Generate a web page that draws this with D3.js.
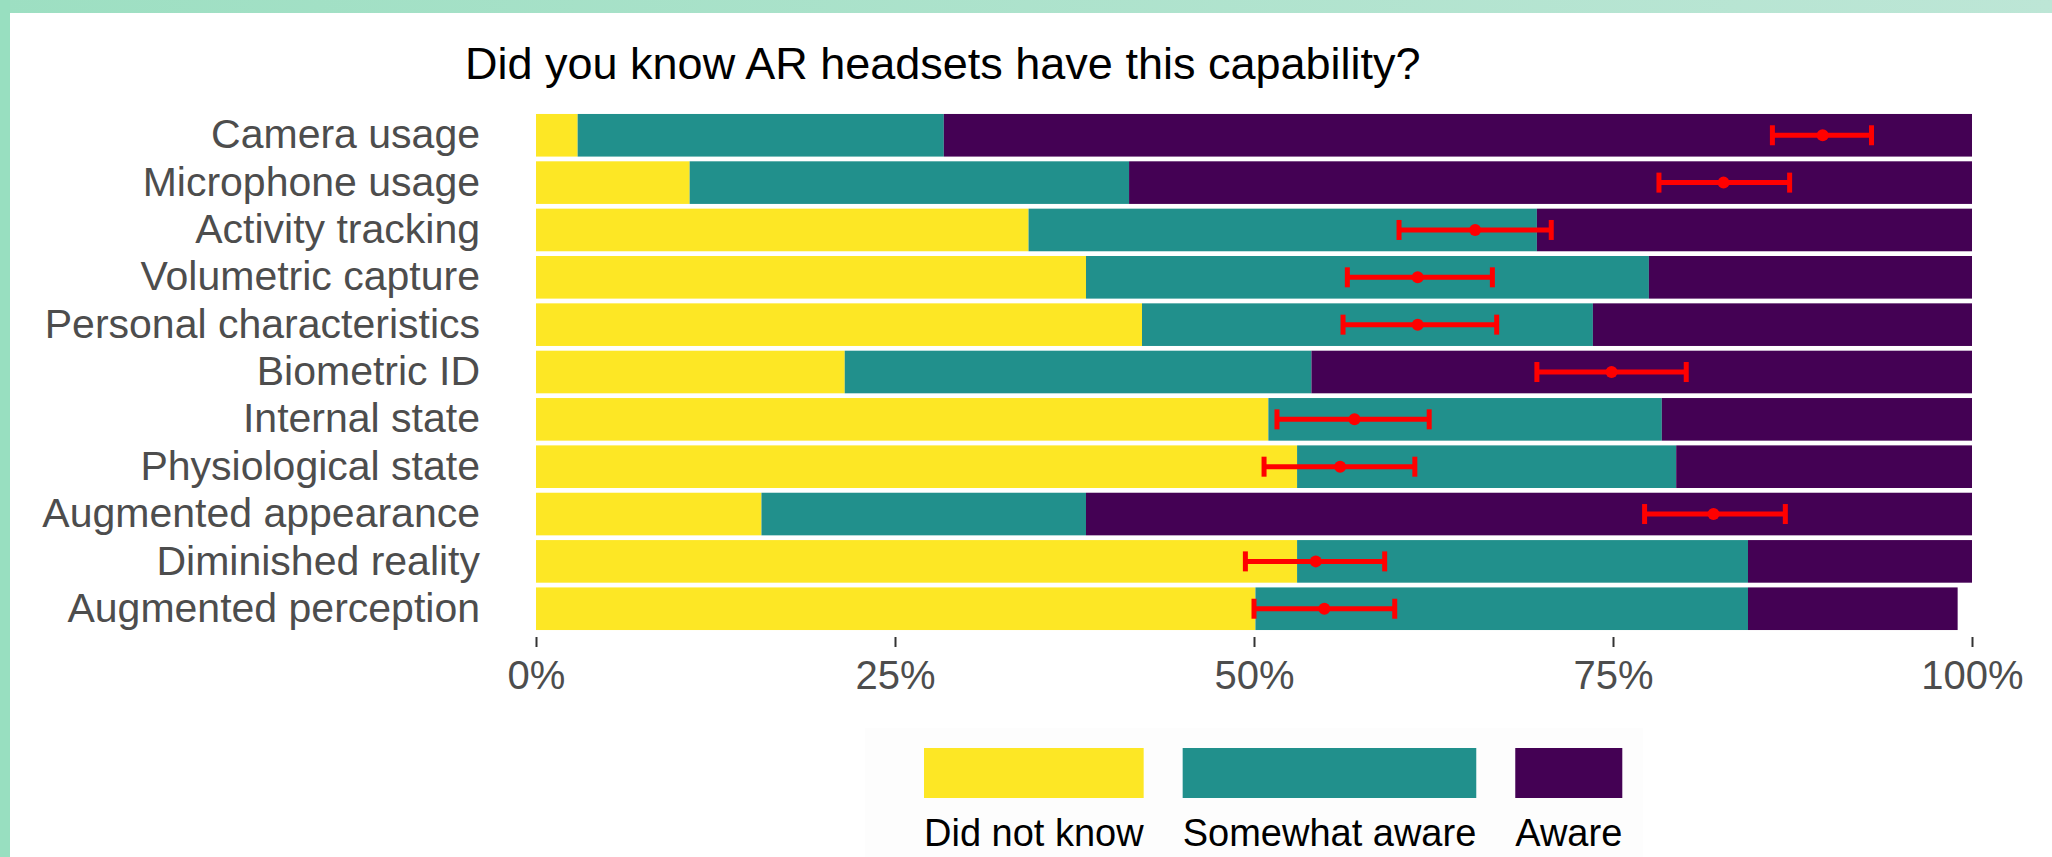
<!DOCTYPE html>
<html>
<head>
<meta charset="utf-8">
<script src="https://cdn.jsdelivr.net/npm/d3@7"></script>
<style>
  html, body { margin: 0; padding: 0; background: #ffffff; }
  svg { display: block; }
  text { font-family: "Liberation Sans", Arial, sans-serif; }
</style>
</head>
<body>
<svg id="chart" width="2052" height="857"></svg>
<script>
// ---- data ----
const categories = [
  "Camera usage", "Microphone usage", "Activity tracking", "Volumetric capture",
  "Personal characteristics", "Biometric ID", "Internal state", "Physiological state",
  "Augmented appearance", "Diminished reality", "Augmented perception"
];
const didNotKnow     = [2.9, 10.7, 34.3, 38.3, 42.2, 21.5, 51.0, 53.0, 15.7, 53.0, 50.1];
const somewhatAware  = [25.5, 30.6, 35.4, 39.2, 31.4, 32.5, 27.4, 26.4, 22.6, 31.4, 34.3];
const aware          = [71.6, 58.7, 30.3, 22.5, 26.4, 46.0, 21.6, 20.6, 61.7, 15.6, 14.6];
const errMean        = [89.6, 82.7, 65.4, 61.4, 61.4, 74.9, 57.0, 56.0, 82.0, 54.3, 54.9];
const errLow         = [86.1, 78.2, 60.1, 56.5, 56.2, 69.7, 51.6, 50.7, 77.2, 49.4, 50.0];
const errHigh        = [93.0, 87.3, 70.7, 66.6, 66.9, 80.1, 62.2, 61.2, 87.0, 59.1, 59.8];
const seriesNames    = ["Did not know", "Somewhat aware", "Aware"];
const seriesColors   = ["#fde725", "#21908c", "#440154"];
const tickValues     = [0, 25, 50, 75, 100];
const titleText      = "Did you know AR headsets have this capability?";

// ---- setup ----
const svg = d3.select("#chart");
const W = 2052, H = 857;

// frame decoration
const defs = svg.append("defs");
const grad = defs.append("linearGradient").attr("id", "topgrad").attr("x1", "0%").attr("x2", "100%");
grad.append("stop").attr("offset", "0%").attr("stop-color", "#9ddfc2");
grad.append("stop").attr("offset", "100%").attr("stop-color", "#bde6d6");
svg.append("rect").attr("x", 0).attr("y", 0).attr("width", W).attr("height", 13).attr("fill", "url(#topgrad)");
svg.append("rect").attr("x", 0).attr("y", 0).attr("width", 10).attr("height", H).attr("fill", "#98dfc0");

const x = d3.scaleLinear().domain([0, 100]).range([536, 1972]);
const y = d3.scaleBand().domain(categories).range([111.6, 632.4]).paddingInner(0.1).paddingOuter(0.05);

// stacked data
const rows = categories.map((c, i) => ({cat: c, v: [didNotKnow[i], somewhatAware[i], aware[i]]}));
const stack = d3.stack().keys([0, 1, 2]).value((d, k) => d.v[k]);
const stacked = stack(rows);

const gBars = svg.append("g");
stacked.forEach((layer, k) => {
  gBars.selectAll(null).data(layer).enter().append("rect")
    .attr("x", d => x(d[0]))
    .attr("width", d => x(d[1]) - x(d[0]))
    .attr("y", d => y(d.data.cat))
    .attr("height", y.bandwidth())
    .attr("fill", seriesColors[k]);
});

// error bars
const gErr = svg.append("g");
categories.forEach((c, i) => {
  const cy = y(c) + y.bandwidth() / 2;
  gErr.append("line").attr("x1", x(errLow[i])).attr("x2", x(errHigh[i]))
    .attr("y1", cy).attr("y2", cy).attr("stroke", "#ff0000").attr("stroke-width", 5);
  [errLow[i], errHigh[i]].forEach(v => {
    gErr.append("line").attr("x1", x(v)).attr("x2", x(v))
      .attr("y1", cy - 10).attr("y2", cy + 10).attr("stroke", "#ff0000").attr("stroke-width", 5);
  });
  gErr.append("circle").attr("cx", x(errMean[i])).attr("cy", cy).attr("r", 6).attr("fill", "#ff0000");
});

// y labels
const yAxis = d3.axisLeft(y).tickSize(0).tickPadding(0);
const gy = svg.append("g").attr("transform", "translate(480,0)").call(yAxis);
gy.select(".domain").remove();
gy.selectAll("text").attr("font-size", 41).attr("fill", "#4d4d4d")
  .attr("font-family", "'Liberation Sans', Arial, sans-serif");

// x axis
const xAxis = d3.axisBottom(x).tickValues(tickValues).tickFormat(d => d + "%").tickSize(10).tickPadding(14);
const gx = svg.append("g").attr("transform", "translate(0,637)").call(xAxis);
gx.select(".domain").remove();
gx.selectAll(".tick line").attr("stroke", "#333333").attr("stroke-width", 2);
gx.selectAll("text").attr("font-size", 40).attr("fill", "#4d4d4d")
  .attr("font-family", "'Liberation Sans', Arial, sans-serif");

// title
svg.append("text").attr("x", 465).attr("y", 79).attr("font-size", 45).attr("fill", "#000")
  .text(titleText);

// legend
const gLeg = svg.append("g");
gLeg.append("rect").attr("x", 865).attr("y", 728).attr("width", 778).attr("height", 135).attr("fill", "#fdfdfd");
let lx = 924;
seriesNames.forEach((name, k) => {
  const t = gLeg.append("text").attr("x", lx).attr("y", 846).attr("font-size", 38).attr("fill", "#000").text(name);
  const w = t.node().getComputedTextLength();
  gLeg.append("rect").attr("x", lx).attr("y", 748).attr("width", w).attr("height", 50).attr("fill", seriesColors[k]);
  lx += w + 39;
});
</script>
</body>
</html>
